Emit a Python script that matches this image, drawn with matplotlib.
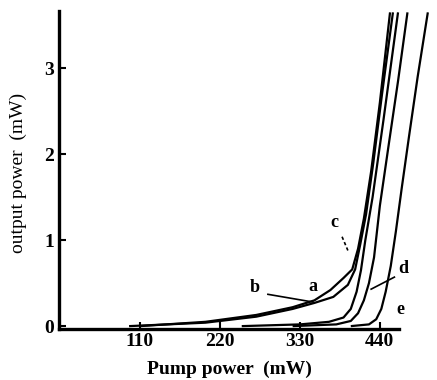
import matplotlib.pyplot as plt

# curves (pump power mW, output power mW)
a_x = [110, 200, 270, 320, 350, 372, 390, 402, 410, 418, 428, 440, 454]
a_y = [0, 0.05, 0.13, 0.22, 0.3, 0.42, 0.56, 0.66, 0.9, 1.25, 1.8, 2.6, 3.65]
b_x = [95, 200, 270, 320, 350, 376, 396, 406, 413, 421, 431, 443, 458]
b_y = [0, 0.04, 0.11, 0.2, 0.27, 0.34, 0.48, 0.66, 0.95, 1.3, 1.9, 2.7, 3.65]
c_x = [250, 330, 370, 390, 400, 408, 414, 420, 430, 445, 465]
c_y = [0, 0.02, 0.05, 0.1, 0.2, 0.4, 0.65, 1.0, 1.5, 2.4, 3.65]
d_x = [320, 380, 400, 410, 418, 425, 432, 440, 452, 465, 478]
d_y = [0, 0.02, 0.06, 0.15, 0.3, 0.5, 0.8, 1.4, 2.1, 2.85, 3.65]
e_x = [400, 425, 435, 442, 448, 455, 462, 470, 480, 492, 506]
e_y = [0, 0.02, 0.08, 0.2, 0.4, 0.7, 1.1, 1.6, 2.2, 2.9, 3.65]

x_ticks = [110, 220, 330, 440]
y_ticks = [0, 1, 2, 3]

plt.rcParams['font.family'] = ['Liberation Serif', 'DejaVu Serif']

fig = plt.figure(figsize=(4.37, 3.80), dpi=100)
ax = fig.add_axes([0.134, 0.135, 0.86, 0.837])

for xs, ys in [(a_x, a_y), (b_x, b_y), (c_x, c_y), (d_x, d_y), (e_x, e_y)]:
    ax.plot(xs, ys, color='black', linewidth=1.6, solid_capstyle='butt')

ax.set_xlim(-2, 515)
ax.set_ylim(-0.03, 3.67)

for s in ['top', 'right']:
    ax.spines[s].set_visible(False)
for s in ['left', 'bottom']:
    ax.spines[s].set_linewidth(2.4)
ax.spines['bottom'].set_bounds(-2, 467)

ax.set_xticks(x_ticks)
ax.set_yticks(y_ticks)
ax.tick_params(direction='in', length=5, width=1.5, labelsize=14, pad=3)
for lab in ax.get_xticklabels() + ax.get_yticklabels():
    lab.set_fontweight('bold')

ax.set_xlabel('Pump power  (mW)', fontsize=14, fontweight='bold')
ax.set_ylabel('output power  (mW)', fontsize=14)
ax.xaxis.set_label_coords(0.456, -0.1)
ax.yaxis.set_label_coords(-0.085, 0.49)

# curve labels
lab_kw = dict(fontsize=13, fontweight='bold', ha='center', va='center')
ax.text(348, 0.46, 'a', **lab_kw)
ax.text(268, 0.45, 'b', **lab_kw)
ax.text(378, 1.2, 'c', **lab_kw)
ax.text(472, 0.67, 'd', **lab_kw)
ax.text(468, 0.19, 'e', **lab_kw)
ax.plot([286, 348], [0.37, 0.28], color='black', linewidth=1.2)
ax.plot([388, 396], [1.04, 0.88], color='black', linewidth=1.2, linestyle=(0, (2, 1.5)))
ax.plot([460, 428], [0.57, 0.43], color='black', linewidth=1.2)

fig.savefig('out.png', dpi=100)
